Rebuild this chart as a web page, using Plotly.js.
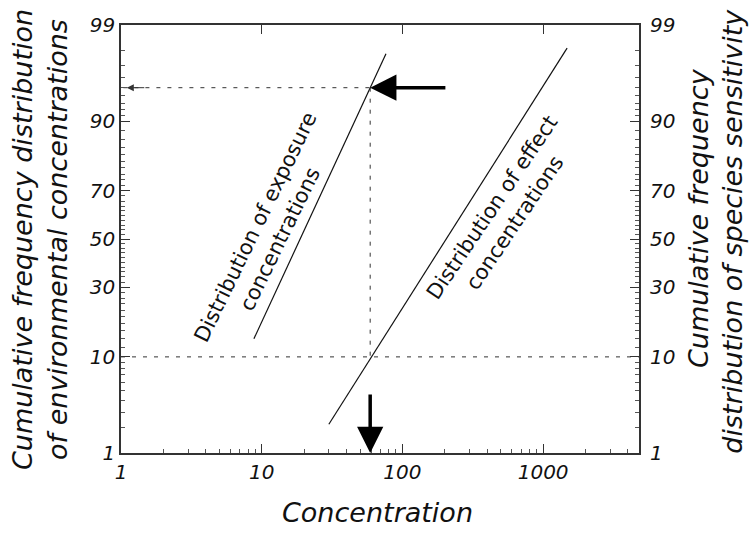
<!DOCTYPE html>
<html>
<head>
<meta charset="utf-8">
<script src="https://cdn.plot.ly/plotly-3.0.1.min.js"></script>
<style>html,body{margin:0;padding:0;background:#fff;}#chart{width:749px;height:535px;}</style>
</head>
<body>
<div id="chart"></div>
<script>
// ---- data ----
const exposureConc = [8.8, 76.4];      // concentration at ends of exposure line
const exposurePct = [13.9, 97.8];      // cumulative % at ends
const effectConc = [30, 1480];         // concentration at ends of effect line
const effectPct = [2.2, 98.1];         // cumulative % at ends
const markerConc = 59;                 // concentration marked by the arrows
const markerExposurePct = 95;          // exposure percentile marked
const markerEffectPct = 10;            // effect percentile marked
const arrowTailConc = 207;             // tail of the horizontal arrow
const arrowTailPct = 4.7;              // tail of the vertical arrow
const yTickPct = [1, 10, 30, 50, 70, 90, 99];
const yTickText = ['1', '10', '30', '50', '70', '90', '99'];
const xTickVals = [1, 10, 100, 1000];
const xTickText = ['1', '10', '100', '1000'];
const xMin = 1, xMax = 4800;

// inverse normal CDF (probability-scale axis transform)
function probit(p) {
  const a=[-3.969683028665376e+01,2.209460984245205e+02,-2.759285104469687e+02,1.383577518672690e+02,-3.066479806614716e+01,2.506628277459239e+00];
  const b=[-5.447609879822406e+01,1.615858368580409e+02,-1.556989798598866e+02,6.680131188771972e+01,-1.328068155288572e+01];
  const c=[-7.784894002430293e-03,-3.223964580411365e-01,-2.400758277161838e+00,-2.549671010229528e+00,4.374664141464968e+00,2.938163982698783e+00];
  const d=[7.784695709041462e-03,3.224671290700398e-01,2.445134137142996e+00,3.754408661907416e+00];
  const pl=0.02425, ph=1-pl; let q, r;
  if (p < pl) { q=Math.sqrt(-2*Math.log(p)); return (((((c[0]*q+c[1])*q+c[2])*q+c[3])*q+c[4])*q+c[5])/((((d[0]*q+d[1])*q+d[2])*q+d[3])*q+1); }
  if (p <= ph) { q=p-0.5; r=q*q; return (((((a[0]*r+a[1])*r+a[2])*r+a[3])*r+a[4])*r+a[5])*q/(((((b[0]*r+b[1])*r+b[2])*r+b[3])*r+b[4])*r+1); }
  q=Math.sqrt(-2*Math.log(1-p)); return -(((((c[0]*q+c[1])*q+c[2])*q+c[3])*q+c[4])*q+c[5])/((((d[0]*q+d[1])*q+d[2])*q+d[3])*q+1);
}
const Z = pct => probit(pct / 100);
const L = v => Math.log10(v);

// minor tick positions
const yMinorPct = [];
for (let v = 2; v <= 9; v++) yMinorPct.push(v);
for (let v = 12; v <= 88; v += 2) if (![30,50,70].includes(v)) yMinorPct.push(v);
for (let v = 91; v <= 98; v++) yMinorPct.push(v);
const xMinor = [];
[1, 10, 100].forEach(d => { for (let k = 2; k <= 9; k++) xMinor.push(k * d); });
[2000, 3000, 4000].forEach(v => xMinor.push(v));

const dash = '4px,7px';
const traces = [
  { x: exposureConc, y: exposurePct.map(Z), mode: 'lines', line: {color: '#111', width: 1.2}, hoverinfo: 'skip' },
  { x: effectConc, y: effectPct.map(Z), mode: 'lines', line: {color: '#111', width: 1.2}, hoverinfo: 'skip' },
  { x: [1.04, markerConc], y: [Z(markerExposurePct), Z(markerExposurePct)], mode: 'lines', line: {color: '#333', width: 1, dash: dash}, hoverinfo: 'skip' },
  { x: [markerConc, markerConc], y: [Z(markerExposurePct), Z(markerEffectPct)], mode: 'lines', line: {color: '#333', width: 1, dash: dash}, hoverinfo: 'skip' },
  { x: [xMin, xMax], y: [Z(markerEffectPct), Z(markerEffectPct)], mode: 'lines', line: {color: '#333', width: 1, dash: dash}, hoverinfo: 'skip' },
  { x: [10], y: [0], xaxis: 'x2', yaxis: 'y2', mode: 'markers', marker: {opacity: 0, size: 1}, hoverinfo: 'skip' }
];

const tickFont = {family: 'DejaVu Sans', size: 20, color: '#111', style: 'italic'};
const yRange = [Z(1), Z(99)];
const yAxisCommon = {
  range: yRange, tickmode: 'array', tickvals: yTickPct.map(Z), ticktext: yTickText,
  ticks: 'inside', ticklen: 9, tickcolor: '#333',
  minor: {tickmode: 'array', tickvals: yMinorPct.map(Z), ticks: 'inside', ticklen: 4, tickcolor: '#555'},
  showgrid: false, zeroline: false, tickfont: tickFont
};

const titleFont = {family: 'DejaVu Sans', size: 27, color: '#111', style: 'italic'};
const labelFont = {family: 'DejaVu Sans', size: 21, color: '#111'};

const layout = {
  width: 749, height: 535,
  margin: {l: 121, r: 110, t: 25, b: 82},
  showlegend: false,
  xaxis: {
    type: 'log', range: [L(xMin), L(xMax)], tickmode: 'array', tickvals: xTickVals, ticktext: xTickText,
    ticks: 'inside', ticklen: 9, tickcolor: '#333',
    minor: {tickmode: 'array', tickvals: xMinor, ticks: 'inside', ticklen: 4, tickcolor: '#555'},
    showline: true, linecolor: '#333', linewidth: 1.5, mirror: true,
    showgrid: false, zeroline: false, tickfont: tickFont
  },
  xaxis2: {
    type: 'log', range: [L(xMin), L(xMax)], overlaying: 'x', side: 'top', anchor: 'y',
    tickmode: 'array', tickvals: [10, 100, 1000], ticks: 'inside', ticklen: 9, tickcolor: '#333',
    showticklabels: false, showline: false, showgrid: false, zeroline: false
  },
  yaxis: Object.assign({}, yAxisCommon, {side: 'left', showline: true, linecolor: '#333', linewidth: 1.5, mirror: true}),
  yaxis2: Object.assign({}, yAxisCommon, {side: 'right', overlaying: 'y', anchor: 'x', showline: false,
    ticktext: yTickText.map(t => '\u2002' + t)}),
  annotations: [
    // thick arrows
    {x: L(markerConc), y: Z(markerExposurePct), ax: L(arrowTailConc), ay: Z(markerExposurePct), xref: 'x', yref: 'y', axref: 'x', ayref: 'y',
     text: '', showarrow: true, arrowhead: 2, arrowsize: 1.5, arrowwidth: 3.5, arrowcolor: '#000', standoff: 0},
    {x: L(markerConc), y: Z(1), ax: L(markerConc), ay: Z(arrowTailPct), xref: 'x', yref: 'y', axref: 'x', ayref: 'y',
     text: '', showarrow: true, arrowhead: 2, arrowsize: 1.5, arrowwidth: 3.5, arrowcolor: '#000', standoff: 0},
    // small arrowhead at left end of the 95% line
    {x: L(1.1), y: Z(markerExposurePct), ax: L(1.5), ay: Z(markerExposurePct), xref: 'x', yref: 'y', axref: 'x', ayref: 'y',
     text: '', showarrow: true, arrowhead: 2, arrowsize: 1.4, arrowwidth: 1, arrowcolor: '#333', standoff: 0},
    // line labels
    {x: 0.282, y: 0.514, xref: 'paper', yref: 'paper', text: 'Distribution of exposure<br>concentrations',
     showarrow: false, textangle: -64, font: labelFont, xanchor: 'center', yanchor: 'middle'},
    {x: 0.737, y: 0.556, xref: 'paper', yref: 'paper', text: 'Distribution of effect<br>concentrations',
     showarrow: false, textangle: -56, font: labelFont, xanchor: 'center', yanchor: 'middle'},
    // axis titles
    {x: 0.496, y: -0.140, xref: 'paper', yref: 'paper', text: 'Concentration', showarrow: false,
     font: titleFont, xanchor: 'center', yanchor: 'middle'},
    {x: -0.156, y: 0.498, xref: 'paper', yref: 'paper', text: 'Cumulative frequency distribution<br>of environmental concentrations',
     showarrow: false, textangle: -90, font: titleFont, xanchor: 'center', yanchor: 'middle'},
    {x: 1.114, y: 0.549, xref: 'paper', yref: 'paper', text: 'Cumulative frequency', showarrow: false,
     textangle: -90, font: titleFont, xanchor: 'center', yanchor: 'middle'},
    {x: 1.181, y: 0.519, xref: 'paper', yref: 'paper', text: 'distribution of species sensitivity', showarrow: false,
     textangle: -90, font: titleFont, xanchor: 'center', yanchor: 'middle'}
  ]
};

Plotly.newPlot('chart', traces, layout, {displayModeBar: false});
</script>
</body>
</html>
